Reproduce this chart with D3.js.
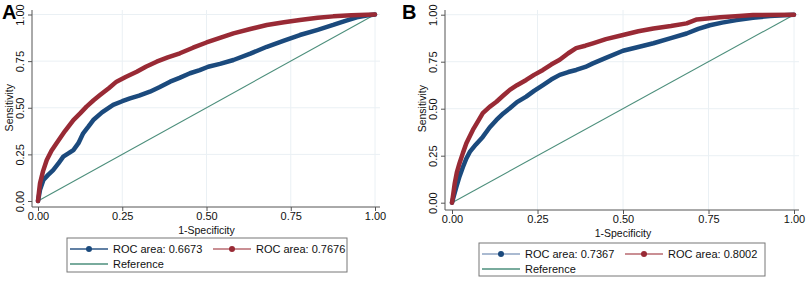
<!DOCTYPE html>
<html>
<head>
<meta charset="utf-8">
<script src="https://cdn.jsdelivr.net/npm/d3@7"></script>
<style>
  body { margin: 0; background: #fff; }
  svg { display: block; font-family: "Liberation Sans", Arial, sans-serif; }
</style>
</head>
<body>
<svg id="chart" width="808" height="281"></svg>
<script>
const ticks = [0, 0.25, 0.5, 0.75, 1]
const tickLabels = ["0.00", "0.25", "0.50", "0.75", "1.00"]

// panel A, [1-specificity, sensitivity]
const rocA_blue = [
    [0, 0], [0.006, 0.06], [0.016, 0.113], [0.03, 0.14], [0.045, 0.166], [0.06, 0.2],
    [0.075, 0.238], [0.09, 0.255], [0.105, 0.273], [0.12, 0.31], [0.134, 0.363],
    [0.15, 0.4], [0.164, 0.434], [0.19, 0.475], [0.223, 0.515], [0.25, 0.535],
    [0.273, 0.55], [0.3, 0.565], [0.332, 0.586], [0.36, 0.61], [0.392, 0.64],
    [0.42, 0.66], [0.451, 0.685], [0.48, 0.702], [0.505, 0.72], [0.54, 0.735],
    [0.58, 0.756], [0.63, 0.79], [0.679, 0.827], [0.73, 0.86], [0.777, 0.89],
    [0.83, 0.918], [0.876, 0.944], [0.91, 0.965], [0.946, 0.985], [0.975, 0.995], [1, 1]
]
const rocA_red = [
    [0, 0], [0.003, 0.05], [0.006, 0.095], [0.015, 0.16], [0.026, 0.22], [0.04, 0.27],
    [0.055, 0.31], [0.08, 0.375], [0.105, 0.434], [0.125, 0.47], [0.144, 0.506],
    [0.165, 0.54], [0.184, 0.568], [0.21, 0.605], [0.233, 0.64], [0.26, 0.665],
    [0.293, 0.693], [0.32, 0.72], [0.352, 0.747], [0.385, 0.77], [0.421, 0.792],
    [0.46, 0.822], [0.5, 0.85], [0.54, 0.875], [0.58, 0.899], [0.63, 0.922],
    [0.679, 0.944], [0.73, 0.958], [0.777, 0.97], [0.83, 0.982], [0.876, 0.99],
    [0.93, 0.996], [1, 1]
]
// panel B
const rocB_blue = [
    [0, 0], [0.006, 0.04], [0.013, 0.085], [0.022, 0.14], [0.032, 0.19], [0.042, 0.235],
    [0.052, 0.27], [0.07, 0.31], [0.09, 0.35], [0.11, 0.4], [0.13, 0.44],
    [0.15, 0.475], [0.169, 0.502], [0.19, 0.535], [0.217, 0.564], [0.24, 0.595],
    [0.266, 0.626], [0.29, 0.655], [0.315, 0.68], [0.34, 0.695], [0.363, 0.706],
    [0.39, 0.722], [0.412, 0.741], [0.45, 0.77], [0.5, 0.808], [0.545, 0.828],
    [0.589, 0.848], [0.64, 0.875], [0.686, 0.9], [0.72, 0.925], [0.754, 0.944],
    [0.79, 0.958], [0.832, 0.971], [0.88, 0.984], [0.93, 0.993], [1, 1]
]
const rocB_red = [
    [0, 0], [0.004, 0.05], [0.008, 0.103], [0.014, 0.16], [0.022, 0.21], [0.032, 0.265],
    [0.042, 0.316], [0.061, 0.387], [0.075, 0.43], [0.09, 0.476], [0.11, 0.51],
    [0.13, 0.537], [0.15, 0.57], [0.169, 0.6], [0.19, 0.625], [0.217, 0.653],
    [0.24, 0.68], [0.266, 0.706], [0.29, 0.735], [0.315, 0.76], [0.34, 0.795],
    [0.363, 0.822], [0.39, 0.835], [0.412, 0.848], [0.45, 0.87], [0.5, 0.892],
    [0.545, 0.912], [0.589, 0.927], [0.64, 0.94], [0.686, 0.954], [0.716, 0.975],
    [0.784, 0.986], [0.84, 0.993], [0.88, 0.998], [1, 1]
]
const reference = [[0, 0], [1, 1]]

const legendA = ["ROC area: 0.6673", "ROC area: 0.7676", "Reference"]
const legendB = ["ROC area: 0.7367", "ROC area: 0.8002", "Reference"]

const BLUE = "#1b4a7d"
const RED = "#992a35"
const GREEN = "#4d8f7c"
const GRID = "#eaf0f4"

const svg = d3.select("#chart")

function drawPanel(p) {
    const g = svg.append("g")
    const x = d3.scaleLinear().domain([0, 1]).range([p.x0, p.x1])
    const y = d3.scaleLinear().domain([0, 1]).range([p.y0, p.y1])

    // grid
    g.selectAll(".gx").data(ticks.slice(1)).join("line")
        .attr("x1", d => x(d)).attr("x2", d => x(d))
        .attr("y1", p.top).attr("y2", p.axisY)
        .attr("stroke", GRID).attr("stroke-width", 1)
    g.selectAll(".gy").data(ticks.slice(1)).join("line")
        .attr("x1", p.axisX).attr("x2", p.right)
        .attr("y1", d => y(d)).attr("y2", d => y(d))
        .attr("stroke", GRID).attr("stroke-width", 1)

    // axes
    const ax = d3.axisBottom(x).tickValues(ticks).tickFormat((d, i) => tickLabels[i]).tickSize(4).tickSizeOuter(0)
    const gx = g.append("g").attr("transform", `translate(0,${p.axisY})`).call(ax)
    gx.select(".domain").attr("d", `M${p.axisX},0H${p.right}`).attr("stroke", "#555")
    gx.selectAll(".tick line").attr("stroke", "#555")
    gx.selectAll(".tick text").attr("font-size", 11).attr("fill", "#111").attr("y", 5)

    const ay = d3.axisLeft(y).tickValues(ticks).tickFormat((d, i) => tickLabels[i]).tickSize(4).tickSizeOuter(0)
    const gy = g.append("g").attr("transform", `translate(${p.axisX},0)`).call(ay)
    gy.select(".domain").attr("d", `M0,${p.top}V${p.axisY}`).attr("stroke", "#555")
    gy.selectAll(".tick line").attr("stroke", "#555")
    gy.selectAll(".tick text")
        .attr("font-size", 11).attr("fill", "#111")
        .attr("x", null).attr("dy", null)
        .attr("text-anchor", "middle")
        .attr("transform", `translate(-8,0) rotate(-90)`)

    g.append("text").attr("x", (p.x0 + p.x1) / 2).attr("y", p.axisY + 27)
        .attr("text-anchor", "middle").attr("font-size", 10.5).attr("fill", "#111")
        .text("1-Specificity")
    g.append("text")
        .attr("transform", `translate(${p.axisX - 19},${(p.y0 + p.y1) / 2}) rotate(-90)`)
        .attr("text-anchor", "middle").attr("font-size", 10.5).attr("fill", "#111")
        .text("Sensitivity")

    // curves
    const line = d3.line().x(d => x(d[0])).y(d => y(d[1]))
    g.append("path").attr("d", line(reference)).attr("fill", "none")
        .attr("stroke", GREEN).attr("stroke-width", 1.1)
    g.append("path").attr("d", line(p.blue)).attr("fill", "none")
        .attr("stroke", BLUE).attr("stroke-width", 4.5).attr("stroke-linejoin", "round").attr("stroke-linecap", "round")
    g.append("path").attr("d", line(p.red)).attr("fill", "none")
        .attr("stroke", RED).attr("stroke-width", 4.5).attr("stroke-linejoin", "round").attr("stroke-linecap", "round")

    // panel letter
    g.append("text").attr("x", p.letterX).attr("y", 19)
        .attr("font-size", 20).attr("font-weight", "bold").attr("fill", "#000")
        .text(p.letter)

    // legend
    const L = p.legend
    g.append("rect").attr("x", L.x).attr("y", L.y).attr("width", L.w).attr("height", L.h)
        .attr("fill", "#fff").attr("stroke", "#777").attr("stroke-width", 1)
    const items = [
        { lx: L.x + 3, ly: L.y + 11, color: L.blueLine, mark: BLUE, label: p.labels[0] },
        { lx: L.x + 146, ly: L.y + 11, color: "#b86a70", mark: RED, label: p.labels[1] },
        { lx: L.x + 3, ly: L.y + 26, color: GREEN, mark: null, label: p.labels[2] }
    ]
    items.forEach(it => {
        g.append("line").attr("x1", it.lx).attr("x2", it.lx + 38)
            .attr("y1", it.ly).attr("y2", it.ly)
            .attr("stroke", it.color).attr("stroke-width", 1.3)
        if (it.mark) {
            g.append("circle").attr("cx", it.lx + 19).attr("cy", it.ly).attr("r", 3)
                .attr("fill", it.mark)
        }
        g.append("text").attr("x", it.lx + 43).attr("y", it.ly + 4)
            .attr("font-size", 11).attr("fill", "#111").text(it.label)
    })
}

drawPanel({
    letter: "A", letterX: 2,
    x0: 38, x1: 375, y0: 201, y1: 14.5,
    axisX: 32, axisY: 207, top: 10, right: 380,
    blue: rocA_blue, red: rocA_red, labels: legendA,
    legend: { x: 67, y: 238, w: 280, h: 34, blueLine: "#2c5686" }
})
drawPanel({
    letter: "B", letterX: 402,
    x0: 452, x1: 794, y0: 202.7, y1: 14.7,
    axisX: 445, axisY: 210, top: 10, right: 799,
    blue: rocB_blue, red: rocB_red, labels: legendB,
    legend: { x: 479, y: 243, w: 286, h: 33, blueLine: "#8ea3c2" }
})
</script>
</body>
</html>
